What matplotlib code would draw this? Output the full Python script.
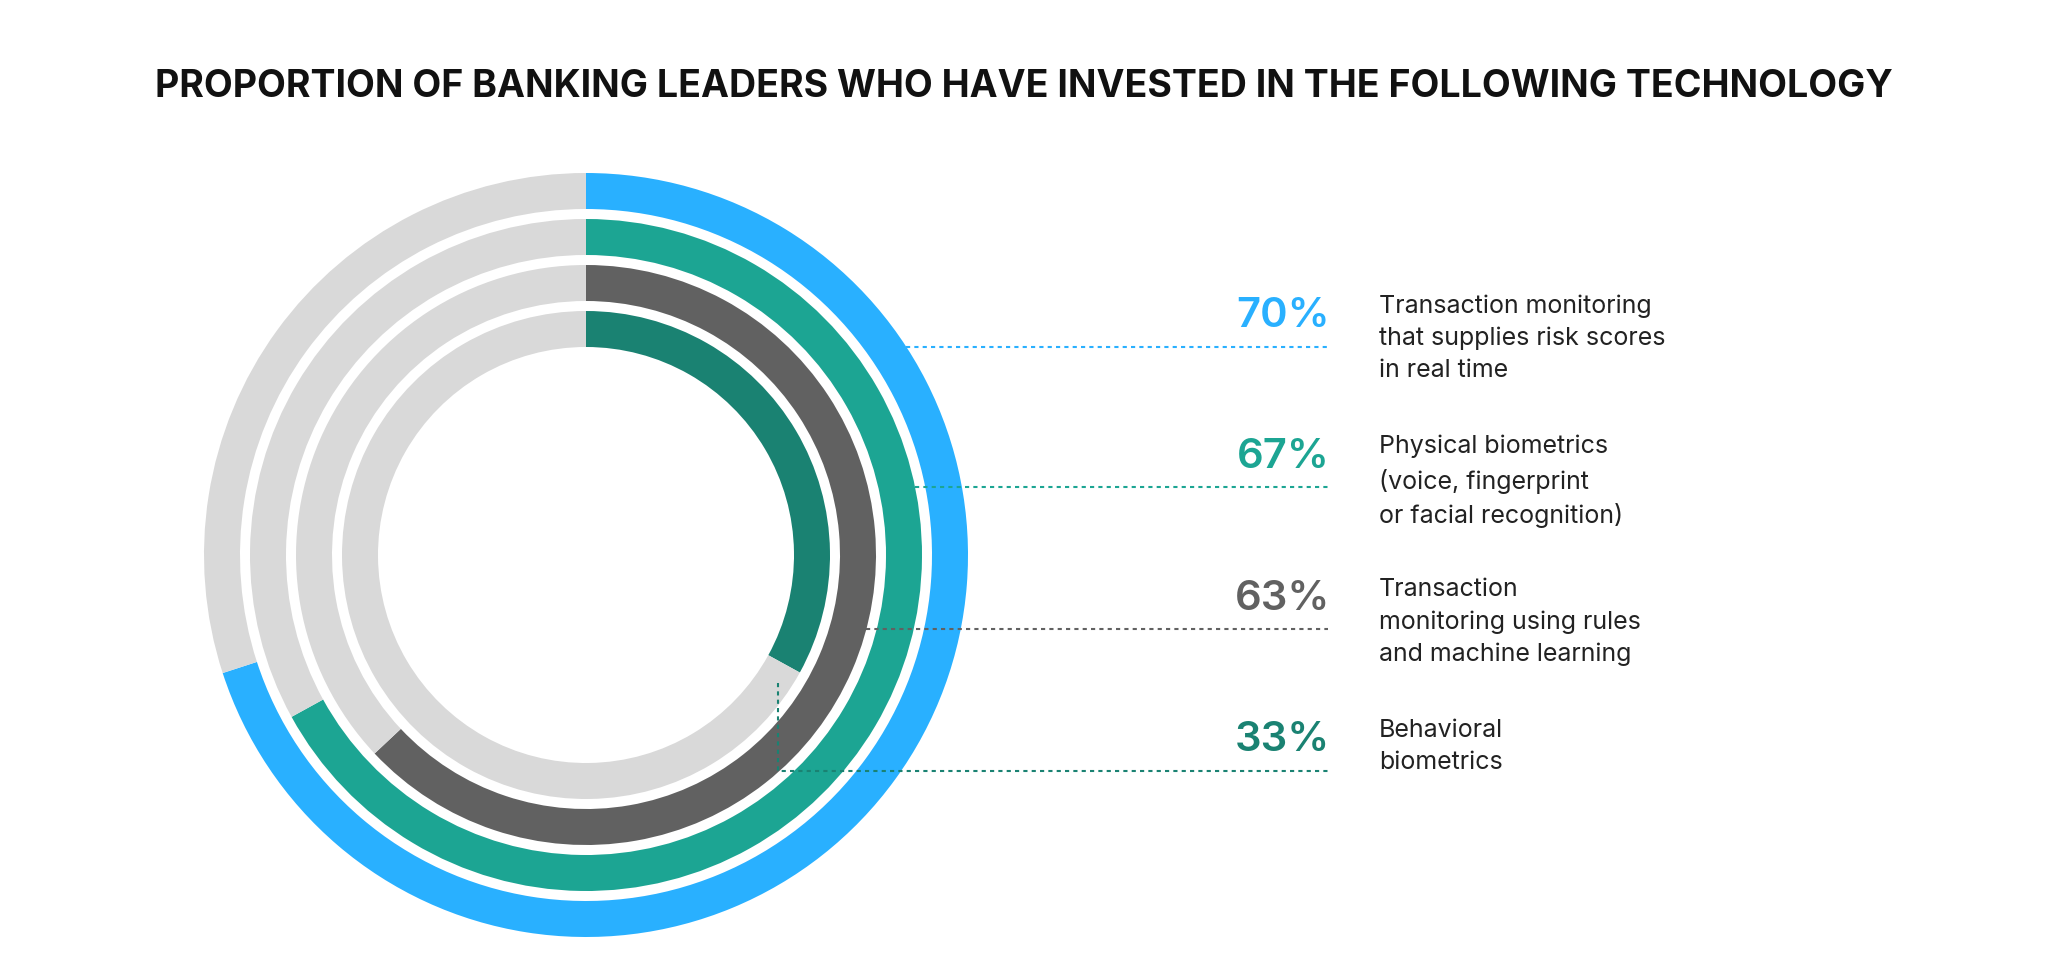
import numpy as np
import matplotlib.pyplot as plt

# data
valores = [70, 67, 63, 33]
etiquetas = ['70%', '67%', '63%', '33%']
descripciones = [
    'Transaction monitoring\nthat supplies risk scores\nin real time',
    'Physical biometrics\n(voice, fingerprint\nor facial recognition)',
    'Transaction\nmonitoring using rules\nand machine learning',
    'Behavioral\nbiometrics',
]
colores = ['#29b0ff', '#1ca593', '#616161', '#1a8272']
gris = '#d9d9d9'
titulo = 'PROPORTION OF BANKING LEADERS WHO HAVE INVESTED IN THE FOLLOWING TECHNOLOGY'

W, H = 2048, 972
fig = plt.figure(figsize=(W / 100, H / 100), dpi=100)
ax = fig.add_axes([0, 0, 1, 1])

cx, cy = 586, H - 555
radios = [382, 336, 290, 244]
ancho = 36

for v, r, c in zip(valores, radios, colores):
    ax.pie([v, 100 - v], radius=r, center=(cx, cy), startangle=90, counterclock=False,
           colors=[c, gris], wedgeprops=dict(width=ancho, edgecolor='none', linewidth=0))

ax.set_xlim(0, W)
ax.set_ylim(0, H)
ax.set_aspect('auto')
ax.axis('off')

# leader lines
lineas_y = [347, 487, 629, 771]
x_fin = 1328
for i in range(3):
    y = lineas_y[i]
    dy = 555 - y
    x0 = cx + np.sqrt(radios[i] ** 2 - dy ** 2)
    ax.plot([x0, x_fin], [H - y, H - y], color=colores[i], lw=1.5, ls=(0, (2, 2)))
ax.plot([778, 778, x_fin], [H - 683, H - 771, H - 771], color=colores[3], lw=1.5, ls=(0, (2, 2)))

# labels
pct_y = [316, 457, 599, 740]
desc_y = [304, 445, 588, 729]
for i in range(4):
    ax.text(1330, H - pct_y[i], etiquetas[i], color=colores[i], fontsize=30,
            fontfamily='Inter', fontweight='semibold', ha='right', va='center')
    ax.text(1379, H - desc_y[i] + 10, descripciones[i], color='#222222', fontsize=18,
            fontfamily='Inter', ha='left', va='top', linespacing=1.5)

ax.text(W / 2, H - 87, titulo, fontsize=27, fontfamily='Inter', fontweight='bold',
        color='#111111', ha='center', va='center')

plt.savefig('out.png', dpi=100, facecolor='white')
